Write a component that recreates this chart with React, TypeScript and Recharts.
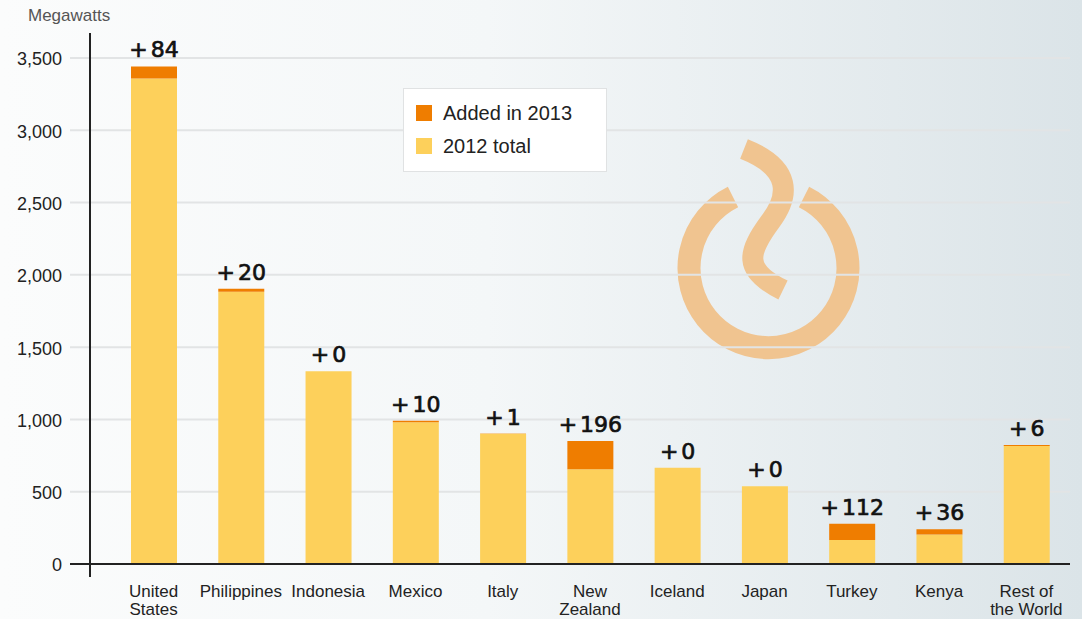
import { BarChart, Bar, XAxis, YAxis, CartesianGrid, LabelList } from 'recharts';

const countries = [
  'United\nStates',
  'Philippines',
  'Indonesia',
  'Mexico',
  'Italy',
  'New\nZealand',
  'Iceland',
  'Japan',
  'Turkey',
  'Kenya',
  'Rest of\nthe World',
];
const total2012 = [3358, 1884, 1333, 980, 901, 655, 665, 537, 166, 204, 817];
const added2013 = [84, 20, 0, 10, 1, 196, 0, 0, 112, 36, 6];
const yTicks = [0, 500, 1000, 1500, 2000, 2500, 3000, 3500];

const YELLOW = '#fdd05b';
const ORANGE = '#ef7d00';
const FONT = '"Liberation Sans", Arial, sans-serif';

const data = countries.map((name, i) => ({
  name,
  base: total2012[i],
  added: added2013[i],
}));

function CountryTick({ x, y, payload }: any) {
  const lines = String(payload.value).split('\n');
  return (
    <text x={x} y={y} textAnchor="middle" fill="#222" fontSize={17} fontFamily={FONT}>
      {lines.map((l, i) => (
        <tspan key={i} x={x} dy={i === 0 ? 25 : 18}>
          {l}
        </tspan>
      ))}
    </text>
  );
}

function AddedText({ x, y, value }: { x: number; y: number; value: number }) {
  return (
    <text
      x={x}
      y={y}
      textAnchor="middle"
      fill="#111"
      stroke="#111"
      strokeWidth={0.7}
      fontSize={22}
      fontFamily='"DejaVu Sans", sans-serif'
    >
      +<tspan dx={3}>{value}</tspan>
    </text>
  );
}

// label on top of the orange piece (skipped by recharts when height is 0)
function AddedLabel({ x, y, width, value }: any) {
  if (!value) return null;
  return <AddedText x={x + width / 2} y={y - 9} value={value} />;
}

// "+0" labels sit on the yellow bar
function ZeroLabel({ x, y, width, value }: any) {
  if (value !== 0) return null;
  return <AddedText x={x + width / 2} y={y - 9} value={0} />;
}

function Logo() {
  // decorative flame/power mark behind the chart
  return (
    <svg width={1082} height={619} style={{ position: 'absolute', left: 0, top: 0 }}>
      <path
        d="M 733 197 A 79.5 79.5 0 1 0 804 197"
        fill="none"
        stroke="#f0c490"
        strokeWidth={23}
      />
      <path
        d="M 744 149 C 792 168 790 196 770 222 C 748 252 742 270 783 290"
        fill="none"
        stroke="#f0c490"
        strokeWidth={21}
      />
    </svg>
  );
}

export default function App() {
  return (
    <div
      style={{
        position: 'absolute',
        left: 0,
        top: 0,
        width: 1082,
        height: 619,
        overflow: 'hidden',
        background: 'linear-gradient(to right, #fbfcfc 0%, #f4f7f8 45%, #dbe4e8 100%)',
        fontFamily: FONT,
      }}
    >
      <Logo />
      <div style={{ position: 'absolute', left: 28, top: 6, fontSize: 17, color: '#555' }}>
        Megawatts
      </div>
      <div style={{ position: 'absolute', left: 0, top: 0 }}>
        <BarChart
          width={1082}
          height={619}
          data={data}
          margin={{ top: 58, right: 12, bottom: 0, left: 0 }}
        >
          <CartesianGrid vertical={false} stroke="#e2e4e5" strokeWidth={2} />
          <YAxis
            width={70}
            domain={[0, 3500]}
            ticks={yTicks}
            interval={0}
            axisLine={false}
            tickLine={false}
            tickFormatter={(v: number) => v.toLocaleString('en-US')}
            tick={{ fill: '#222', fontSize: 18, fontFamily: FONT, dy: 1 }}
          />
          <XAxis
            dataKey="name"
            height={55}
            interval={0}
            padding={{ left: 40, right: 0 }}
            tickLine={false}
            axisLine={{ stroke: '#222', strokeWidth: 2 }}
            tick={<CountryTick />}
          />
          <Bar dataKey="base" stackId="a" fill={YELLOW} barSize={46} isAnimationActive={false}>
            <LabelList dataKey="added" content={<ZeroLabel />} />
          </Bar>
          <Bar dataKey="added" stackId="a" fill={ORANGE} barSize={46} isAnimationActive={false}>
            <LabelList dataKey="added" content={<AddedLabel />} />
          </Bar>
        </BarChart>
      </div>
      <svg
        width={1082}
        height={619}
        style={{ position: 'absolute', left: 0, top: 0, pointerEvents: 'none' }}
      >
        <line x1={90} y1={33} x2={90} y2={577} stroke="#222" strokeWidth={2} />
      </svg>
      <div
        style={{
          position: 'absolute',
          left: 403,
          top: 88,
          width: 204,
          height: 84,
          background: '#fff',
          border: '1px solid #e0e2e3',
          boxSizing: 'border-box',
        }}
      >
        {[
          { label: 'Added in 2013', color: ORANGE, top: 16 },
          { label: '2012 total', color: YELLOW, top: 49 },
        ].map((item) => (
          <div key={item.label}>
            <div
              style={{
                position: 'absolute',
                left: 12,
                top: item.top,
                width: 16,
                height: 16,
                background: item.color,
              }}
            />
            <div
              style={{
                position: 'absolute',
                left: 39,
                top: item.top - 4,
                fontSize: 20,
                lineHeight: '24px',
                color: '#222',
                whiteSpace: 'nowrap',
              }}
            >
              {item.label}
            </div>
          </div>
        ))}
      </div>
    </div>
  );
}
